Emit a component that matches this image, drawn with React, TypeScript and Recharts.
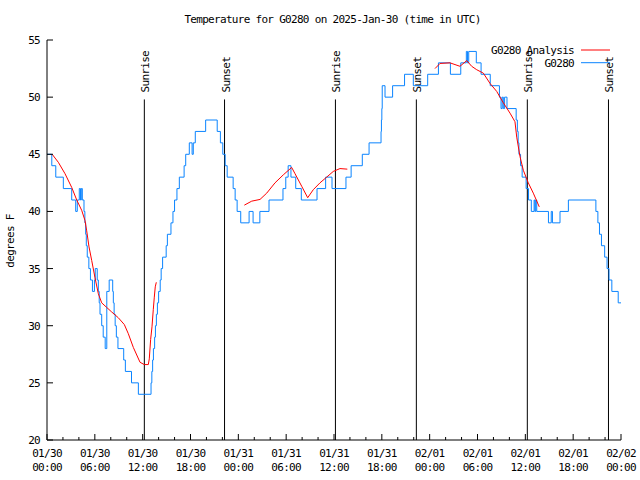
import React from "react";
import { LineChart, Line, XAxis, YAxis, ReferenceLine, Legend } from "recharts";

const FONT = "'DejaVu Sans Mono', monospace";

// G0280 observations (hours since 01/30 00:00 UTC, deg F)
const obsHours = [
  0, 0.6, 1.1, 2.05, 3.1, 3.6, 3.8, 4.05, 4.2, 4.3,
  4.43, 4.64, 4.75, 4.85, 4.93, 5.05, 5.25, 5.45, 5.7, 5.95,
  6.05, 6.3, 6.44, 6.55, 6.65, 6.86, 7.05, 7.3, 7.5, 7.8,
  8.24, 8.32, 8.42, 8.55, 8.7, 8.9, 9.62, 9.83, 10.6, 11.46,
  13.05, 13.15, 13.25, 13.35, 13.5, 13.6, 13.72, 13.85, 14.0, 14.2,
  14.32, 14.5, 14.95, 15.1, 15.55, 15.8, 16.0, 16.3, 16.6, 17.2,
  17.4, 17.85, 18.2, 18.35, 18.6, 19.9, 21.35, 21.75, 22.05, 22.35,
  22.6, 23.35, 23.6, 23.85, 24.3, 25.35, 25.85, 26.7, 27.85, 29.6,
  29.95, 30.25, 30.6, 31.2, 31.9, 33.87, 34.95, 35.75, 37.5, 38.15,
  39.55, 40.4, 41.9, 41.95, 42.0, 42.05, 42.4, 43.35, 44.85, 45.95,
  47.75, 49.1, 50.6, 51.9, 52.6, 52.75, 52.9, 53.85, 54.45, 55.6,
  56.75, 56.95, 57.1, 57.24, 57.4, 57.7, 58.85, 59.0, 59.1, 59.2,
  59.4, 59.6, 60.1, 60.4, 60.75, 61.1, 61.2, 61.3, 61.43, 62.9,
  63.25, 63.4, 64.35, 65.4, 68.85, 69.1, 69.3, 69.55, 69.95, 70.25,
  70.5, 70.85, 71.65, 72,
];
const obsTemps = [
  45, 44, 43, 42, 41, 40, 41, 42, 41, 42,
  41, 40, 39, 38, 37, 36, 35, 34, 33, 34,
  35, 34, 33, 32, 31, 30, 29, 28, 33, 34,
  33, 32, 31, 30, 29, 28, 27, 26, 25, 24,
  25, 26, 27, 28, 29, 30, 31, 32, 33, 34,
  35, 36, 37, 38, 39, 40, 41, 42, 43, 44,
  45, 46, 45, 46, 47, 48, 47, 46, 45, 44,
  43, 42, 41, 40, 39, 40, 39, 40, 41, 42,
  43, 44, 43, 42, 41, 42, 43, 42, 43, 44,
  45, 46, 47, 48, 49, 51, 50, 51, 52, 51,
  52, 53, 52, 53, 54, 53, 54, 53, 52, 51,
  50, 49, 50, 49, 50, 49, 48, 47, 46, 45,
  44, 43, 42, 41, 40, 41, 40, 41, 40, 39,
  40, 39, 40, 41, 40, 39, 38, 37, 36, 35,
  34, 33, 32, 32,
];

// G0280 analysis, three separate pieces
const anaHours1 = [0.65, 1.42, 2.26, 3.1, 3.73, 4.35, 4.77, 4.98, 5.27, 5.61, 6.02, 6.44, 6.86, 7.49, 8.12, 8.94, 9.7, 10.2, 10.83, 11.67, 12.2, 12.71, 12.83, 13.0, 13.17, 13.33, 13.46, 13.58, 13.71];
const anaTemps1 = [45, 44.3, 43.3, 42.1, 41.0, 40.1, 39.2, 38.3, 36.9, 35.7, 34.2, 32.8, 32.0, 31.6, 31.2, 30.7, 30.1, 29.3, 28.1, 26.8, 26.6, 26.6, 27.1, 28.8, 29.9, 31.4, 32.5, 33.4, 33.8];
const anaHours2 = [24.75, 25.68, 26.72, 27.56, 28.6, 29.64, 30.69, 31.11, 31.95, 32.7, 33.4, 34.24, 35.08, 35.91, 36.75, 37.67];
const anaTemps2 = [40.55, 40.9, 41.05, 41.6, 42.5, 43.2, 43.85, 43.3, 42.2, 41.2, 41.9, 42.5, 43.0, 43.5, 43.75, 43.7];
const anaHours3 = [48.67, 49.3, 50.55, 51.8, 52.65, 53.27, 53.9, 54.73, 55.57, 56.41, 57.24, 58.08, 58.7, 58.92, 59.33, 59.75, 60.37, 61.0, 61.75];
const anaTemps3 = [52.5, 52.95, 53.0, 52.7, 53.2, 52.7, 52.4, 52.1, 51.2, 50.5, 49.5, 48.6, 47.85, 46.5, 44.8, 43.6, 42.5, 41.6, 40.4];

const sunHours = [12.21, 22.27, 36.18, 46.33, 60.25, 70.43];
const sunLabels = ["Sunrise", "Sunset", "Sunrise", "Sunset", "Sunrise", "Sunset"];
const sunTop = 49.8;

const majorTicks = [0, 6, 12, 18, 24, 30, 36, 42, 48, 54, 60, 66, 72];
const minorTicks = Array.from({ length: 37 }, (_, i) => i * 2);
const dateLabels = ["01/30", "01/30", "01/30", "01/30", "01/31", "01/31", "01/31", "01/31", "02/01", "02/01", "02/01", "02/01", "02/02"];
const timeLabels = ["00:00", "06:00", "12:00", "18:00", "00:00", "06:00", "12:00", "18:00", "00:00", "06:00", "12:00", "18:00", "00:00"];
const tempTicks = [20, 25, 30, 35, 40, 45, 50, 55];

const legendNames = ["G0280 Analysis", "G0280"];
const legendColors = ["#ff0000", "#0a84ff"];

const pts = (hs: number[], ts: number[]) => hs.map((h, i) => ({ h, t: ts[i] }));
const obsData = pts(obsHours, obsTemps);
const anaPieces = [pts(anaHours1, anaTemps1), pts(anaHours2, anaTemps2), pts(anaHours3, anaTemps3)];

const txt = { fontFamily: FONT, fontSize: 11, letterSpacing: -0.7, fill: "#000" };

function BottomTick(props: any) {
  const { x, y, payload } = props;
  const i = majorTicks.indexOf(payload.value);
  return (
    <g>
      <line x1={x} x2={x} y1={y} y2={y - (i >= 0 ? 6 : 3)} stroke="#000" />
      {i >= 0 && (
        <text x={x} y={y} textAnchor="middle" {...txt}>
          <tspan x={x} dy={17}>{dateLabels[i]}</tspan>
          <tspan x={x} dy={14}>{timeLabels[i]}</tspan>
        </text>
      )}
    </g>
  );
}

function TopTick(props: any) {
  const { x, y, payload } = props;
  const major = majorTicks.includes(payload.value);
  return <line x1={x} x2={x} y1={y} y2={y + (major ? 6 : 3)} stroke="#000" />;
}

function LeftTick(props: any) {
  const { x, y, payload } = props;
  return (
    <g>
      <line x1={x} x2={x + 6} y1={y} y2={y} stroke="#000" />
      <text x={x - 7} y={y} dy={4} textAnchor="end" {...txt}>{payload.value}</text>
    </g>
  );
}

function RightTick(props: any) {
  const { x, y } = props;
  return <line x1={x - 6} x2={x} y1={y} y2={y} stroke="#000" />;
}

function SunLabel(props: any) {
  const { viewBox, text } = props;
  if (!viewBox) return null;
  const x = viewBox.x + 1.5;
  const y = viewBox.y - 7;
  return (
    <text x={x} y={y} transform={`rotate(-90 ${x} ${y})`} textAnchor="start" dominantBaseline="central" {...txt}>
      {text}
    </text>
  );
}

function YTitle(props: any) {
  const { viewBox } = props;
  const cy = viewBox.y + viewBox.height / 2 + 1;
  return (
    <text x={10.5} y={cy} transform={`rotate(-90 10.5 ${cy})`} textAnchor="middle" dominantBaseline="central" {...txt}>
      degrees F
    </text>
  );
}

function LegendBox() {
  return (
    <svg width={140} height={30}>
      {legendNames.map((n, i) => (
        <g key={n}>
          <text x={94} y={8 + i * 12.7} dy={4} textAnchor="end" {...txt}>{n}</text>
          <line x1={101} x2={130} y1={8 + i * 12.7} y2={8 + i * 12.7} stroke={legendColors[i]} />
        </g>
      ))}
    </svg>
  );
}

export default function App() {
  return (
    <div style={{ position: "absolute", left: 0, top: 0, width: 640, height: 480, background: "#fff" }}>
      <svg width={640} height={30} style={{ position: "absolute", left: 0, top: 0 }}>
        <text x={332.5} y={23} textAnchor="middle" {...txt}>
          Temperature for G0280 on 2025-Jan-30 (time in UTC)
        </text>
      </svg>
      <LineChart width={640} height={480} margin={{ top: 40, right: 19, bottom: 0, left: 7 }}>
        <XAxis xAxisId="b" dataKey="h" type="number" domain={[0, 72]} ticks={minorTicks} interval={0}
          height={40} tickSize={0} tickMargin={0} tickLine={false} tick={<BottomTick />} axisLine={{ stroke: "#000" }} />
        <XAxis xAxisId="t" orientation="top" dataKey="h" type="number" domain={[0, 72]} ticks={minorTicks} interval={0}
          height={0} tickSize={0} tickMargin={0} tickLine={false} tick={<TopTick />} axisLine={{ stroke: "#000" }} />
        <YAxis yAxisId="l" type="number" domain={[20, 55]} ticks={tempTicks} interval={0} width={40}
          tickSize={0} tickMargin={0} tickLine={false} tick={<LeftTick />} axisLine={{ stroke: "#000" }}
          label={<YTitle />} />
        <YAxis yAxisId="r" orientation="right" type="number" domain={[20, 55]} ticks={tempTicks} interval={0} width={0}
          tickSize={0} tickMargin={0} tickLine={false} tick={<RightTick />} axisLine={{ stroke: "#000" }} />
        {sunHours.map((h, i) => (
          <ReferenceLine key={i} xAxisId="b" yAxisId="l" segment={[{ x: h, y: 20 }, { x: h, y: sunTop }]}
            stroke="#000" strokeWidth={1} label={<SunLabel text={sunLabels[i]} />} />
        ))}
        <Line xAxisId="b" yAxisId="l" data={obsData} dataKey="t" name="G0280" type="stepAfter"
          stroke="#0a84ff" strokeWidth={1} dot={false} isAnimationActive={false} />
        {anaPieces.map((d, i) => (
          <Line key={i} xAxisId="b" yAxisId="l" data={d} dataKey="t" name="G0280 Analysis" type="linear"
            stroke="#ff0000" strokeWidth={1} dot={false} isAnimationActive={false} />
        ))}
        <Legend layout="vertical" align="center" verticalAlign="middle" content={<LegendBox />}
          wrapperStyle={{ left: 480, top: 42, width: 140, height: 30 }} />
      </LineChart>
    </div>
  );
}
